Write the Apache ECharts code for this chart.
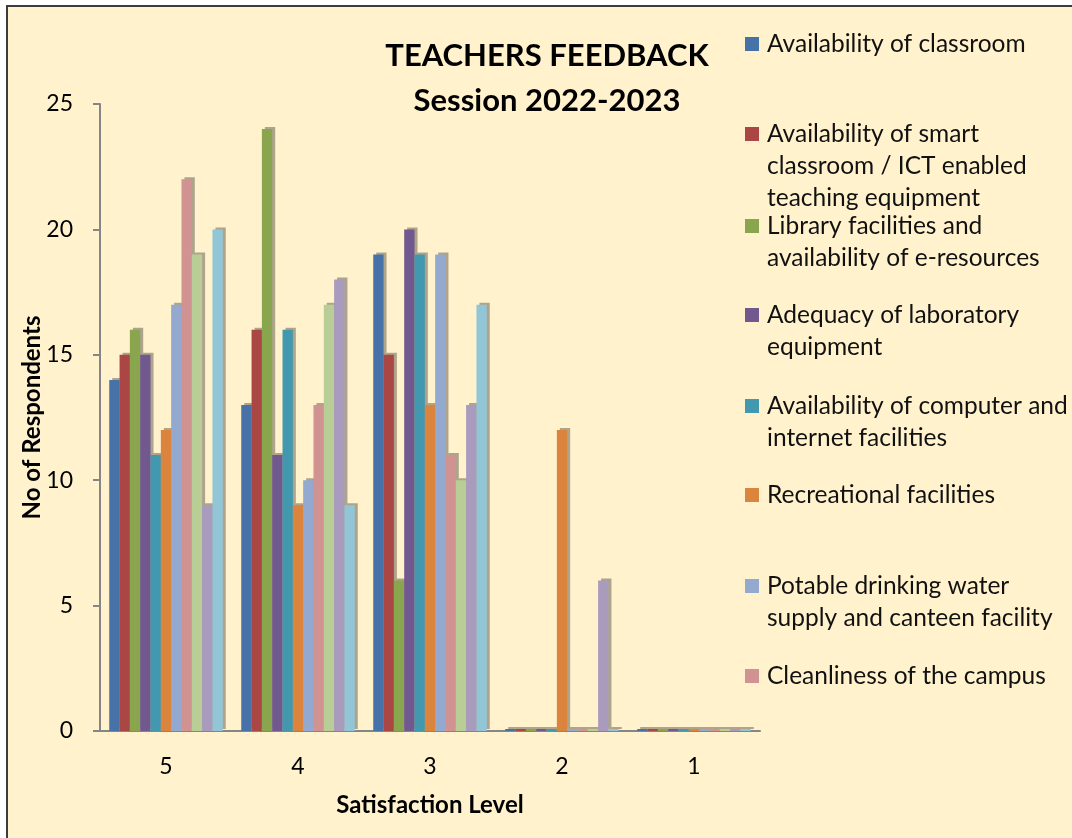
<!DOCTYPE html>
<html lang="en">

<head>
    <meta charset="UTF-8">
    <title>Teachers Feedback</title>
    <style>
        body { margin: 0; background: #fff; }
        #main { width: 1072px; height: 838px; }
    </style>
</head>

<body>
    <div id="main"></div>
</body>
<script src="https://cdn.jsdelivr.net/npm/echarts@6/dist/echarts.min.js"></script>
<script>
    // satisfaction levels on the x axis
    var levels = ['5', '4', '3', '2', '1']

    var names = [
        'Availability of classroom',
        'Availability of smart classroom / ICT enabled teaching equipment',
        'Library facilities and availability of e-resources',
        'Adequacy of laboratory equipment',
        'Availability of computer and internet facilities',
        'Recreational facilities',
        'Potable drinking water supply and canteen facility',
        'Cleanliness of the campus',
        'Safety and security',
        'Grievance redressal',
        'Overall infrastructure'
    ]

    // one array per series, values for levels 5,4,3,2,1
    var classroom = [14, 13, 19, 0, 0]
    var smartClass = [15, 16, 15, 0, 0]
    var library = [16, 24, 6, 0, 0]
    var laboratory = [15, 11, 20, 0, 0]
    var computer = [11, 16, 19, 0, 0]
    var recreation = [12, 9, 13, 12, 0]
    var water = [17, 10, 19, 0, 0]
    var cleanliness = [22, 13, 11, 0, 0]
    var safety = [19, 17, 10, 0, 0]
    var grievance = [9, 18, 13, 6, 0]
    var overall = [20, 9, 17, 0, 0]

    var values = [classroom, smartClass, library, laboratory, computer, recreation,
        water, cleanliness, safety, grievance, overall]

    var colors = ['#4672A8', '#AA4643', '#89A54E', '#71588F', '#4198AF', '#DB843D',
        '#93A9CF', '#D19392', '#B9CD96', '#A99BBD', '#92C5D6']

    // legend labels as wrapped in the original, and the y of each marker
    var legendText = [
        ['Availability of classroom'],
        ['Availability of smart', 'classroom / ICT enabled', 'teaching equipment'],
        ['Library facilities and', 'availability of e-resources'],
        ['Adequacy of laboratory', 'equipment'],
        ['Availability of computer and', 'internet facilities'],
        ['Recreational facilities'],
        ['Potable drinking water', 'supply and canteen facility'],
        ['Cleanliness of the campus']
    ]
    var legendY = [44, 134, 226, 315, 406, 495, 586, 676]

    var font = 'Lato, "Open Sans", sans-serif'
    var lh = 32

    var legends = []
    for (var i = 0; i < legendText.length; i++) {
        var lines = legendText[i]
        var n = lines.length
        var h = n * lh
        // marker sits beside the first line: a tall icon box with the square at its top
        var icon = 'path://M0,0h0.01M0,9h14v14h-14zM17,' + h + 'h0.01'
        legends.push({
            data: [{ name: names[i], icon: icon }],
            left: 745,
            top: legendY[i] - lh / 2,
            padding: 0,
            itemWidth: 17,
            itemHeight: h,
            itemGap: 0,
            selectedMode: false,
            formatter: (function (t) {
                return function () { return t.join('\n') }
            })(lines),
            textStyle: {
                fontFamily: font,
                fontSize: 24.5,
                color: '#111',
                lineHeight: lh
            }
        })
    }

    var series = []
    for (var i = 0; i < values.length; i++) {
        series.push({
            name: names[i],
            type: 'bar',
            data: values[i],
            barGap: '0%',
            barCategoryGap: '14%',
            barMinHeight: 2,
            itemStyle: {
                color: colors[i],
                shadowColor: 'rgba(0,0,0,0.32)',
                shadowBlur: 0,
                shadowOffsetX: 3,
                shadowOffsetY: -2
            }
        })
    }

    var myChart = echarts.init(document.getElementById('main'))
    var option = {
        backgroundColor: '#ffffff',
        color: colors,
        animation: false,
        graphic: [{
            type: 'rect',
            z: -1,
            shape: { x: 7, y: 6, width: 1100, height: 900 },
            style: { fill: '#FFF2CD', stroke: '#3c3c3c', lineWidth: 2 }
        }],
        title: {
            text: 'TEACHERS FEEDBACK\nSession 2022-2023',
            left: 542,
            top: 28,
            textAlign: 'center',
            textStyle: {
                fontFamily: font,
                fontSize: 31,
                fontWeight: 'bold',
                color: '#000',
                lineHeight: 45
            }
        },
        legend: legends,
        grid: {
            left: 100,
            right: 312,
            top: 104,
            bottom: 107
        },
        xAxis: {
            type: 'category',
            data: levels,
            name: 'Satisfaction Level',
            nameLocation: 'middle',
            nameGap: 62,
            nameTextStyle: {
                fontFamily: font,
                fontSize: 24,
                fontWeight: 'bold',
                color: '#000'
            },
            axisLine: { lineStyle: { color: '#868686', width: 2 } },
            axisTick: { length: 7, lineStyle: { color: '#868686', width: 2 } },
            axisLabel: {
                fontFamily: font,
                fontSize: 23,
                color: '#000',
                margin: 24
            }
        },
        yAxis: {
            type: 'value',
            min: 0,
            max: 25,
            interval: 5,
            name: 'No of Respondents',
            nameLocation: 'middle',
            nameGap: 56,
            nameMoveOverlap: false,
            nameTextStyle: {
                fontFamily: font,
                fontSize: 24,
                fontWeight: 'bold',
                color: '#000'
            },
            axisLine: { show: true, lineStyle: { color: '#868686', width: 2 } },
            axisTick: { show: true, length: 7, lineStyle: { color: '#868686', width: 2 } },
            axisLabel: {
                fontFamily: font,
                fontSize: 23,
                color: '#000',
                margin: 27
            },
            splitLine: { show: false }
        },
        series: series
    }
    myChart.setOption(option)
</script>

</html>
